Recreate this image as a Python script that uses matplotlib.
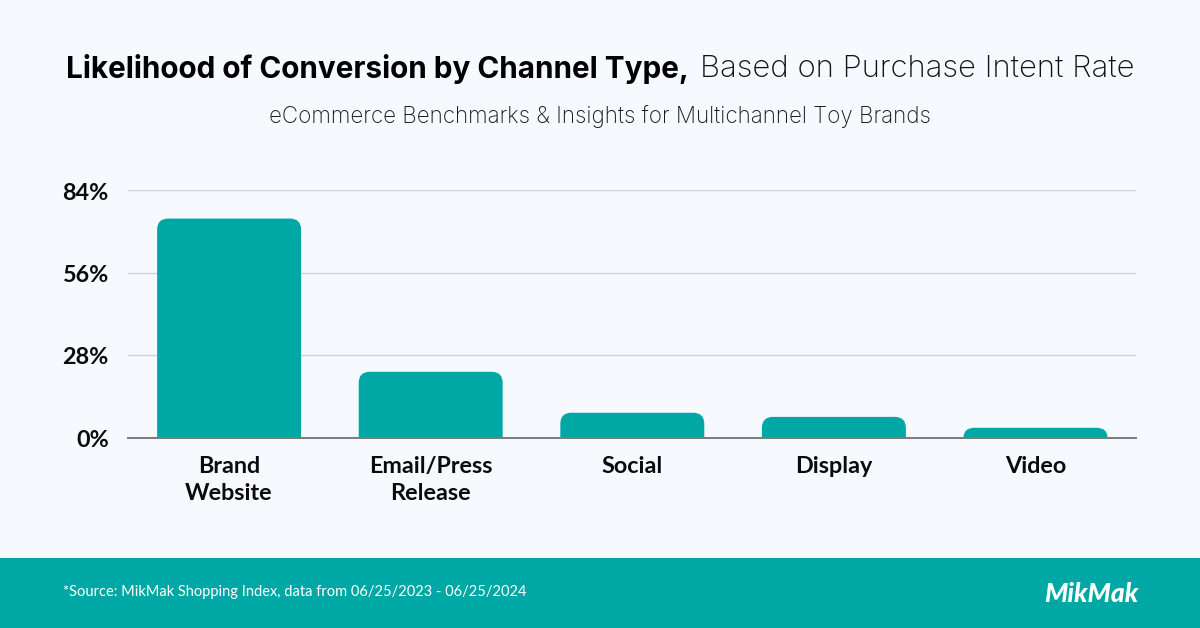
#!/usr/bin/env python3
"""
Likelihood of conversion by channel type, rounded top bars with footer band
"""

import matplotlib
matplotlib.use('Agg')
import matplotlib.pyplot as plt
from matplotlib.patches import PathPatch, Rectangle
from matplotlib.path import Path
from matplotlib.transforms import ScaledTranslation

# Data
channels = ['Brand\nWebsite', 'Email/Press\nRelease', 'Social', 'Display', 'Video']
intent_rate = [74.3, 22.3, 8.4, 7.0, 3.3]
y_ticks = [0, 28, 56, 84]
y_tick_labels = ['0%', '28%', '56%', '84%']

TEAL = '#00A8A5'
BG = '#F6FAFE'
W, H = 1200, 628


def rounded_bar(ax, x, height, width, radius_px):
    """Bar with rounded top corners, radius given in pixels"""
    bbox = ax.get_window_extent()
    x0, x1 = ax.get_xlim()
    y0, y1 = ax.get_ylim()
    rx = radius_px * (x1 - x0) / bbox.width
    ry = min(radius_px * (y1 - y0) / bbox.height, height)
    left, right = x - width / 2, x + width / 2
    verts = [(left, 0), (left, height - ry), (left, height), (left + rx, height),
             (right - rx, height), (right, height), (right, height - ry),
             (right, 0), (left, 0)]
    codes = [Path.MOVETO, Path.LINETO, Path.CURVE3, Path.CURVE3,
             Path.LINETO, Path.CURVE3, Path.CURVE3, Path.LINETO, Path.CLOSEPOLY]
    ax.add_patch(PathPatch(Path(verts, codes), facecolor=TEAL, edgecolor='none', zorder=3))


fig = plt.figure(figsize=(W / 100, H / 100), dpi=100, facecolor=BG)
ax = fig.add_axes([128.3 / W, 1 - 437.5 / H, 1008 / W, 247.5 / H])
ax.set_facecolor('none')
ax.set_xlim(-0.5, len(channels) - 0.5)
ax.set_ylim(0, 84)

for i, v in enumerate(intent_rate):
    rounded_bar(ax, i, v, 0.714, 11)

ax.set_yticks(y_ticks)
ax.set_yticklabels(y_tick_labels, family='Lato', fontweight='bold', fontsize=16.8, color='#0B0B0B')
ax.set_xticks(range(len(channels)))
ax.set_xticklabels(channels, family='Lato', fontweight='bold', fontsize=16.8, color='#0B0B0B',
                   linespacing=1.35)
ax.tick_params(axis='both', length=0)
ax.tick_params(axis='x', pad=13.5)
ax.tick_params(axis='y', pad=14)
# y labels sit a pixel below their gridlines
for label in ax.get_yticklabels():
    label.set_transform(label.get_transform() + ScaledTranslation(0, -1 / 100, fig.dpi_scale_trans))
ax.grid(axis='y', color='#CDD3DB', linewidth=1, zorder=0)
ax.set_axisbelow(True)
for side in ['top', 'right', 'left']:
    ax.spines[side].set_visible(False)
ax.spines['bottom'].set_color('#7A7A7A')
ax.spines['bottom'].set_linewidth(1.4)
ax.spines['bottom'].set_zorder(4)

# Title in two weights
fig.text(66 / W, 1 - 68.5 / H, 'Likelihood of Conversion by Channel Type,', family='Inter',
         fontweight='bold', fontsize=21.4, color='#000000', va='center', ha='left')
fig.text(1134 / W, 1 - 68.5 / H, 'Based on Purchase Intent Rate', family='Inter',
         fontweight='light', fontsize=22.4, color='#111111', va='center', ha='right')
fig.text(600 / W, 1 - 116.5 / H, 'eCommerce Benchmarks & Insights for Multichannel Toy Brands',
         family='Inter', fontweight='light', fontsize=16.15, color='#1A1A1A', va='center', ha='center')

# Footer band
fig.add_artist(Rectangle((0, 0), 1, 70 / H, transform=fig.transFigure, facecolor=TEAL, edgecolor='none'))
fig.text(63 / W, 1 - 592 / H, '*Source: MikMak Shopping Index, data from 06/25/2023 - 06/25/2024',
         family='Lato', fontsize=10.5, color='#FFFFFF', va='center', ha='left')
fig.text(1091 / W, 1 - 594 / H, 'MikMak', family='Lato', fontweight='black', style='italic',
         fontsize=19, color='#FFFFFF', va='center', ha='center')

plt.savefig('out.png', dpi=100, facecolor=fig.get_facecolor())
plt.close()
